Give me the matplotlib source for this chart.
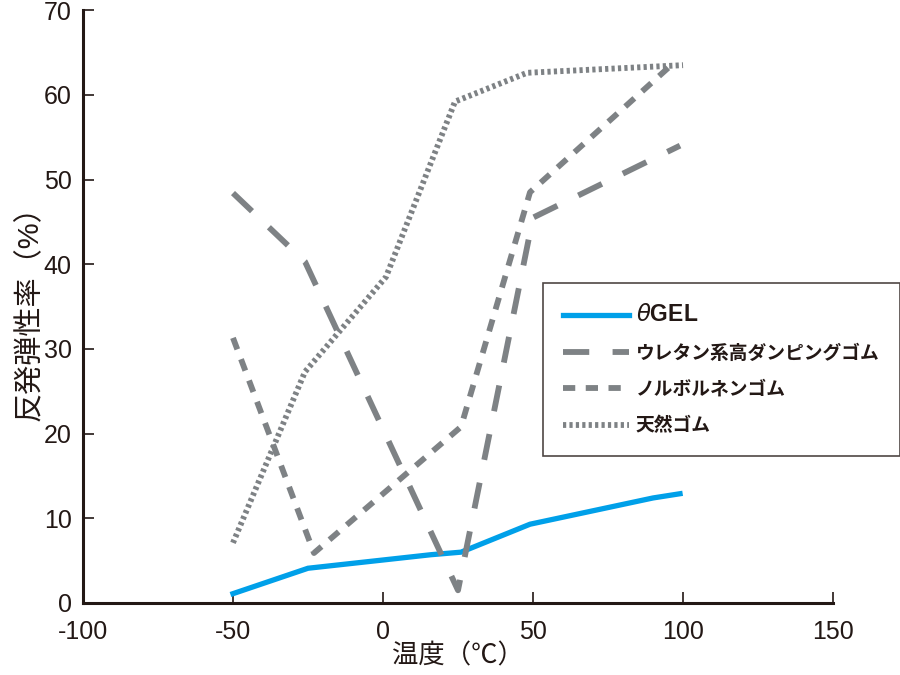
import matplotlib
matplotlib.use("Agg")
import matplotlib.pyplot as plt

plt.rcParams['font.family'] = ['Liberation Sans', 'Noto Sans CJK JP', 'DejaVu Sans']
plt.rcParams['axes.unicode_minus'] = False

# values
gel_x = [-50, -25, 16, 26, 49, 90, 99]
gel_y = [1.1, 4.1, 5.7, 6.0, 9.3, 12.4, 12.9]

ure_x = [-50, -26, 25, 50, 99]
ure_y = [48.4, 40.3, 1.5, 45.5, 54.0]

nor_x = [-50, -23, 26, 49, 97]
nor_y = [31.3, 5.9, 20.8, 48.5, 63.8]

nat_x = [-50, -26, 1, 24, 48, 100]
nat_y = [7.1, 27.3, 38.5, 59.2, 62.6, 63.5]

labels = [r'$\theta$GEL', 'ウレタン系高ダンピングゴム', 'ノルボルネンゴム', '天然ゴム']
blue = '#00a0e9'
gray = '#7e8285'
ink = '#231815'

fig = plt.figure(figsize=(9, 6.75), dpi=100)
ax = fig.add_axes([0.0922, 0.1067, 0.8334, 0.8783])

ax.plot(gel_x, gel_y, color=blue, lw=3.8, label=labels[0], solid_joinstyle='miter')
ax.plot(ure_x, ure_y, color=gray, lw=4.2, dashes=(4.5, 4), label=labels[1])
ax.plot(nor_x, nor_y, color=gray, lw=4.2, dashes=(2.1, 1.8), label=labels[2])
ax.plot(nat_x, nat_y, color=gray, lw=4.2, dashes=(0.55, 0.55), label=labels[3])

ax.set_xlim(-100, 150)
ax.set_ylim(0, 70)
ax.set_xticks([-100, -50, 0, 50, 100, 150])
ax.set_yticks(range(0, 80, 10))
for s in ['top', 'right']:
    ax.spines[s].set_visible(False)
for s in ['left', 'bottom']:
    ax.spines[s].set_linewidth(2.2)
    ax.spines[s].set_color(ink)
ax.tick_params(direction='in', length=8, width=1.2, labelsize=18, colors=ink)
ax.tick_params(axis='x', pad=12)
ax.tick_params(axis='y', pad=8)

ax.set_xlabel('温度（℃）', fontsize=19, color=ink, labelpad=0)
ax.set_ylabel('反発弾性率（%）', fontsize=21, color=ink, labelpad=0)

leg = fig.legend(loc='upper left', bbox_to_anchor=(0.603, 0.581), borderaxespad=0,
                 frameon=True, fancybox=False, edgecolor=ink, handlelength=3.5,
                 borderpad=1.1, labelspacing=0.97, handletextpad=0.35,
                 prop={'family': ['Liberation Sans', 'Noto Sans CJK JP'], 'weight': 'bold', 'size': 13.5})
leg.get_frame().set_linewidth(1.2)
for t in leg.get_texts():
    t.set_color(ink)
leg.get_texts()[0].set_fontsize(16.5)

fig.savefig('out.png', dpi=100)
